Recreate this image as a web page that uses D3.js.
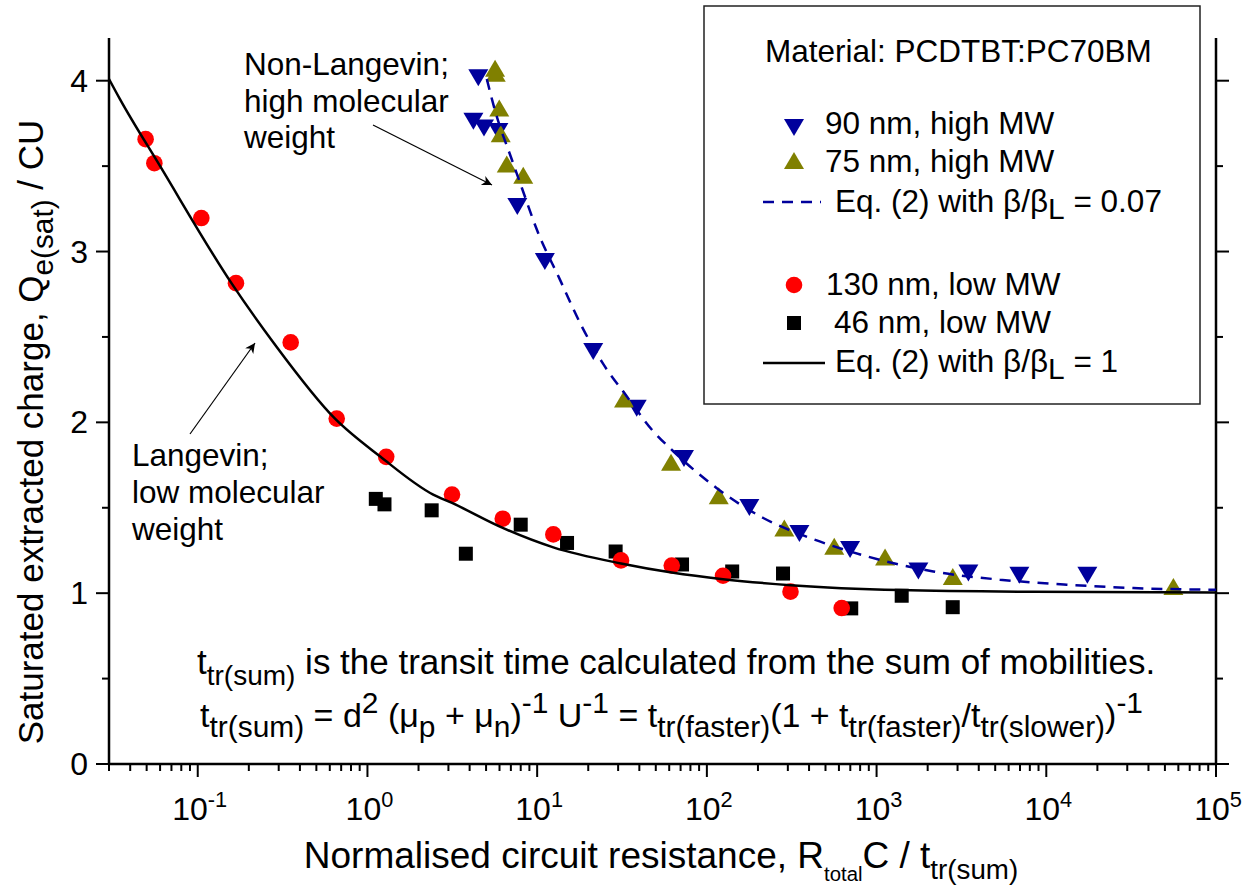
<!DOCTYPE html>
<html>
<head>
<meta charset="utf-8">
<script src="https://cdn.jsdelivr.net/npm/d3@7"></script>
<style>
  body { margin: 0; background: #fff; }
  text { font-family: "Liberation Sans", Arial, sans-serif; fill: #000; white-space: pre; }
</style>
</head>
<body>
<script>
// data
var redX = [0.0493, 0.0555, 0.105, 0.168, 0.353, 0.659, 1.29, 3.15, 6.27, 12.45, 31.2, 62.1, 124.5, 311, 623];
var redY = [3.658, 3.517, 3.196, 2.815, 2.468, 2.022, 1.798, 1.577, 1.436, 1.344, 1.192, 1.162, 1.102, 1.009, 0.913];

var blackX = [1.12, 1.26, 2.39, 3.80, 8.00, 15.0, 29.0, 71.4, 141, 281, 709, 1406, 2810];
var blackY = [1.552, 1.520, 1.485, 1.231, 1.401, 1.294, 1.244, 1.168, 1.127, 1.115, 0.911, 0.985, 0.918];

var blueX = [4.50, 4.21, 4.86, 5.91, 7.64, 11.1, 21.4, 38.6, 73.3, 178, 351, 698, 1763, 3475, 6940, 17460];
var blueY = [4.02, 3.765, 3.726, 3.706, 3.267, 2.944, 2.417, 2.085, 1.792, 1.505, 1.352, 1.259, 1.133, 1.121, 1.108, 1.108];

var oliveX = [5.65, 5.70, 5.98, 6.10, 6.62, 8.28, 32.5, 61.5, 117.5, 286, 563, 1122, 2812, 56100];
var oliveY = [4.07, 4.04, 3.838, 3.687, 3.510, 3.443, 2.134, 1.763, 1.567, 1.379, 1.272, 1.209, 1.094, 1.036];

// Eq. (2) curves
var langX = [0.03, 0.0348, 0.0599, 0.158, 0.279, 0.644, 1.19, 2.44, 3.15, 6.27, 12.45, 31.2, 62.1, 124.5, 312, 1374, 8360, 100000];
var langY = [4.01, 3.892, 3.501, 2.815, 2.468, 2.022, 1.800, 1.577, 1.528, 1.382, 1.268, 1.174, 1.121, 1.082, 1.047, 1.018, 1.008, 1.004];

var nonLangX = [5.05, 5.65, 7.08, 8.11, 9.94, 13.6, 18.3, 24.6, 33.7, 47.3, 63.4, 114, 215, 406, 875, 2160, 5330, 13200, 32600, 100000];
var nonLangY = [4.01, 3.824, 3.540, 3.375, 3.130, 2.837, 2.563, 2.339, 2.153, 1.958, 1.831, 1.616, 1.440, 1.323, 1.216, 1.127, 1.079, 1.050, 1.030, 1.020];

var yTicks = [0, 1, 2, 3, 4];
var xTickExp = [-1, 0, 1, 2, 3, 4, 5];

var svgWidth = 1251, svgHeight = 894;
var plot = { left: 109, right: 1216, top: 38, bottom: 764 };

var svg = d3.select("body").append("svg")
  .attr("width", svgWidth)
  .attr("height", svgHeight);
svg.append("rect").attr("width", svgWidth).attr("height", svgHeight).attr("fill", "#fff");

var x = d3.scaleLog().domain([0.03, 1e5]).range([plot.left, plot.right]);
var y = d3.scaleLinear().domain([0, 4.25]).range([plot.bottom, plot.top]);

// text with sub / superscripts: [text, mode, scale, shift]
function rich(sel, px, py, parts, size, anchor, subScale) {
  var t = sel.append("text").attr("x", px).attr("y", py)
    .attr("font-size", size).attr("text-anchor", anchor || "start");
  var cur = 0;
  parts.forEach(function(p) {
    var mode = p[1] || "n";
    var sc = p[2] || (mode == "n" ? 1 : (subScale || 0.7));
    var off = mode == "sub" ? size * (p[3] || 0.3) : mode == "sup" ? -size * 0.4 : 0;
    t.append("tspan").attr("dy", off - cur).attr("font-size", size * sc).text(p[0]);
    cur = off;
  });
  return t;
}

// axes
var xMinor = [];
for (var e = -2; e < 5; e++) {
  for (var m = 2; m <= 9; m++) {
    var v = m * Math.pow(10, e);
    if (v >= 0.03 && v <= 1e5) xMinor.push(v);
  }
}
var xMajor = xTickExp.map(function(k) { return Math.pow(10, k); });

var axes = svg.append("g").attr("stroke", "#000").attr("stroke-width", 2);
axes.selectAll(".xminor").data(xMinor).enter().append("line")
  .attr("x1", d => x(d)).attr("x2", d => x(d))
  .attr("y1", plot.bottom).attr("y2", plot.bottom + 7);
axes.selectAll(".xmajor").data(xMajor).enter().append("line")
  .attr("x1", d => x(d)).attr("x2", d => x(d))
  .attr("y1", plot.bottom).attr("y2", plot.bottom + 13);

var yMinor = d3.range(0.5, 4.25, 1);
[plot.left, plot.right].forEach(function(ax) {
  var dir = ax == plot.left ? -1 : 1;
  axes.selectAll(null).data(yTicks).enter().append("line")
    .attr("x1", ax).attr("x2", ax + dir * 13)
    .attr("y1", d => y(d)).attr("y2", d => y(d));
  axes.selectAll(null).data(yMinor).enter().append("line")
    .attr("x1", ax).attr("x2", ax + dir * 7)
    .attr("y1", d => y(d)).attr("y2", d => y(d));
});
axes.append("line").attr("x1", plot.left).attr("x2", plot.right)
  .attr("y1", plot.bottom).attr("y2", plot.bottom).attr("stroke-width", 2.5);
axes.append("line").attr("x1", plot.left).attr("x2", plot.left)
  .attr("y1", plot.top).attr("y2", plot.bottom).attr("stroke-width", 2.5);
axes.append("line").attr("x1", plot.right).attr("x2", plot.right)
  .attr("y1", plot.top).attr("y2", plot.bottom).attr("stroke-width", 2.5);

// tick labels
yTicks.forEach(function(d) {
  svg.append("text").attr("x", 88).attr("y", y(d) + 11)
    .attr("text-anchor", "end").attr("font-size", 32).text(d);
});
xTickExp.forEach(function(k) {
  rich(svg, x(Math.pow(10, k)) + 2, 820, [["10"], [String(k), "sup", 0.68]], 32, "middle");
});

// axis titles
rich(svg, 661, 868, [["Normalised circuit resistance, R"], ["total", "sub", 0.55, 0.35], ["C / t"], ["tr(sum)", "sub", 0.75, 0.3]], 37, "middle");
var yt = svg.append("g").attr("transform", "translate(43,432) rotate(-90)");
rich(yt, 0, 0, [["Saturated extracted charge, Q"], ["e(sat)", "sub", 0.85, 0.28], [" / CU"]], 35, "middle");

// markers
function triPath(cx, cy, down) {
  var s = down ? 1 : -1;
  return "M" + (cx - 10) + "," + (cy - 8 * s) + "L" + (cx + 10) + "," + (cy - 8 * s) + "L" + cx + "," + (cy + 9 * s) + "Z";
}
var marks = svg.append("g");
marks.selectAll(".sq").data(d3.zip(blackX, blackY)).enter().append("rect")
  .attr("x", d => x(d[0]) - 7).attr("y", d => y(d[1]) - 7)
  .attr("width", 14).attr("height", 14).attr("fill", "#000");
marks.selectAll(".ci").data(d3.zip(redX, redY)).enter().append("circle")
  .attr("cx", d => x(d[0])).attr("cy", d => y(d[1])).attr("r", 8.3).attr("fill", "#ff0000");
marks.selectAll(".bl").data(d3.zip(blueX, blueY)).enter().append("path")
  .attr("d", d => triPath(x(d[0]), y(d[1]), true)).attr("fill", "#00009c");
marks.selectAll(".ol").data(d3.zip(oliveX, oliveY)).enter().append("path")
  .attr("d", d => triPath(x(d[0]), y(d[1]), false)).attr("fill", "#808000");

// model curves
var line = d3.line().x(d => x(d[0])).y(d => y(d[1])).curve(d3.curveMonotoneX);
svg.append("path").datum(d3.zip(langX, langY)).attr("d", line)
  .attr("fill", "none").attr("stroke", "#000").attr("stroke-width", 2.5);
svg.append("path").datum(d3.zip(nonLangX, nonLangY)).attr("d", line)
  .attr("fill", "none").attr("stroke", "#00009c").attr("stroke-width", 2.5)
  .attr("stroke-dasharray", "11,8");

// annotations
var defs = svg.append("defs");
defs.append("marker").attr("id", "arr").attr("viewBox", "0 0 10 10")
  .attr("refX", 10).attr("refY", 5).attr("markerWidth", 14).attr("markerHeight", 10)
  .attr("markerUnits", "userSpaceOnUse").attr("orient", "auto")
  .append("path").attr("d", "M0,0L10,5L0,10L3,5Z").attr("fill", "#000");

var notes = svg.append("g");
["Non-Langevin;", "high molecular", "weight"].forEach(function(s, i) {
  notes.append("text").attr("x", 244).attr("y", 75 + i * 36.5).attr("font-size", 31.5).text(s);
});
notes.append("line").attr("x1", 373).attr("y1", 125).attr("x2", 492).attr("y2", 185)
  .attr("stroke", "#000").attr("stroke-width", 1.2).attr("marker-end", "url(#arr)");
["Langevin;", "low molecular", "weight"].forEach(function(s, i) {
  notes.append("text").attr("x", 132).attr("y", 466 + i * 37).attr("font-size", 31.5).text(s);
});
notes.append("line").attr("x1", 190).attr("y1", 434).attr("x2", 255).attr("y2", 343)
  .attr("stroke", "#000").attr("stroke-width", 1.2).attr("marker-end", "url(#arr)");

rich(notes, 197, 674, [["t"], ["tr(sum)", "sub"], [" is the transit time calculated from the sum of mobilities."]], 35, "start", 0.8);
rich(notes, 200, 727, [["t"], ["tr(sum)", "sub"], [" = d"], ["2", "sup"], [" (\u03bc"], ["p", "sub"], [" + \u03bc"], ["n", "sub"], [")"], ["-1", "sup"],
  [" U"], ["-1", "sup"], [" = t"], ["tr(faster)", "sub"], ["(1 + t"], ["tr(faster)", "sub"], ["/t"], ["tr(slower)", "sub"], [")"], ["-1", "sup"]], 34, "start", 0.88);

// legend
var lg = svg.append("g");
lg.append("rect").attr("x", 704).attr("y", 6).attr("width", 496).attr("height", 398)
  .attr("fill", "#fff").attr("stroke", "#222").attr("stroke-width", 1.5);
lg.append("text").attr("x", 765).attr("y", 62).attr("font-size", 31.5).text("Material: PCDTBT:PC70BM");
lg.append("path").attr("d", triPath(794, 127, true)).attr("fill", "#00009c");
lg.append("text").attr("x", 825).attr("y", 134).attr("font-size", 31.5).text("90 nm, high MW");
lg.append("path").attr("d", triPath(794, 161, false)).attr("fill", "#808000");
lg.append("text").attr("x", 825).attr("y", 172).attr("font-size", 31.5).text("75 nm, high MW");
lg.append("line").attr("x1", 763).attr("x2", 821).attr("y1", 202).attr("y2", 202)
  .attr("stroke", "#00009c").attr("stroke-width", 2.5).attr("stroke-dasharray", "11,8");
rich(lg, 835, 212, [["Eq. (2) with \u03b2/\u03b2"], ["L", "sub", 0.95, 0.22], [" = 0.07"]], 31.5);
lg.append("circle").attr("cx", 794).attr("cy", 285).attr("r", 8.3).attr("fill", "#ff0000");
lg.append("text").attr("x", 826).attr("y", 295).attr("font-size", 31.5).text("130 nm, low MW");
lg.append("rect").attr("x", 787).attr("y", 316).attr("width", 14).attr("height", 14).attr("fill", "#000");
lg.append("text").attr("x", 834).attr("y", 333).attr("font-size", 31.5).text("46 nm, low MW");
lg.append("line").attr("x1", 763).attr("x2", 825).attr("y1", 363).attr("y2", 363)
  .attr("stroke", "#000").attr("stroke-width", 2.5);
rich(lg, 835, 372, [["Eq. (2) with \u03b2/\u03b2"], ["L", "sub", 0.95, 0.22], [" = 1"]], 31.5);
</script>
</body>
</html>
